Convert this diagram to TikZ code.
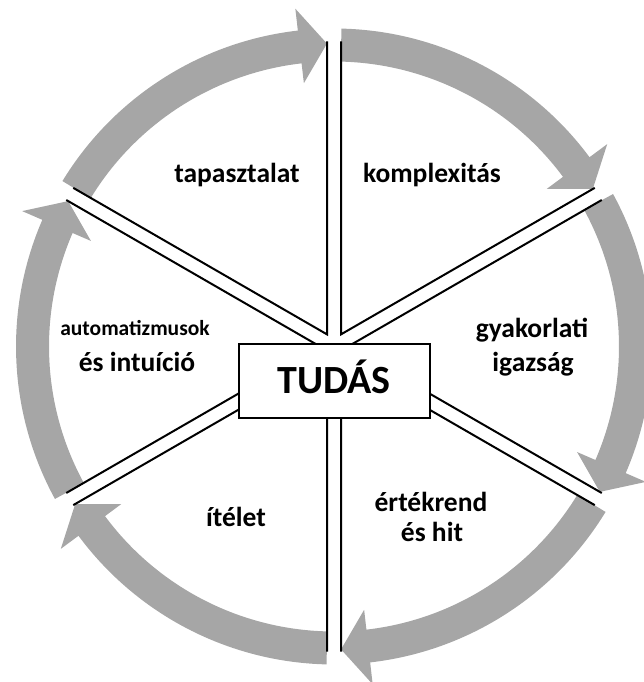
\documentclass[tikz,border=0pt]{standalone}
\usepackage{fontspec}
\setmainfont{Carlito}
\usetikzlibrary{calc}
\definecolor{arrowgray}{RGB}{166,166,166}
\tikzset{
  spoke/.style={line width=2pt, draw=black, line join=miter},
  cyclearrow/.style={fill=arrowgray, draw=none},
  lbl/.style={anchor=base, inner sep=0pt, font=\bfseries\fontsize{27.5}{32}\selectfont},
  smalllbl/.style={anchor=base, inner sep=0pt, font=\bfseries\fontsize{21.5}{26}\selectfont},
  centerbox/.style={draw=black, line width=2pt, fill=white, minimum width=191pt, minimum height=74pt,
    text height=26pt, text depth=0pt, inner sep=0pt, font=\bfseries\fontsize{40}{48}\selectfont}
}
\begin{document}
\begin{tikzpicture}[x=1pt,y=1pt]
\useasboundingbox (0,0) rectangle (643,682);
\coordinate (C) at (334,335.5);
% cycle arrows
\foreach \b in {60,0,-60,-120,180,120} {
  \pgfmathsetmacro\aone{\b+30-1.35}
  \pgfmathsetmacro\atwo{\b-30+1.33}
  \pgfmathsetmacro\ab{\atwo+5.2}
  \fill[cyclearrow] ($(C)+(\aone:318pt)$) arc[start angle=\aone, end angle=\ab, radius=318pt]
    -- ($(C)+(\ab:340pt)$) -- ($(C)+(\atwo:303pt)$) -- ($(C)+(\ab:265pt)$)
    -- ($(C)+(\ab:285pt)$) arc[start angle=\ab, end angle=\aone, radius=285pt] -- cycle;
}
% spokes (wedge edges)
\foreach \b [count=\i] in {60,0,-60,-120,180,120} {
  \coordinate (A\i) at ($(C)+(\b:14pt)$);
  \coordinate (P\i) at ($(A\i)+(\b+30:293pt)$);
  \coordinate (Q\i) at ($(A\i)+(\b-30:293pt)$);
  \draw[spoke] (P\i) -- (A\i) -- (Q\i);
}
% center box
\node[centerbox] (tudas) at (334,301) {TUDÁS};
% labels
\node[lbl] (l1) at (237,499) {tapasztalat};
\node[lbl] (l2) at (432,499) {komplexitás};
\node[lbl] (l3a) at (532,344) {gyakorlati};
\node[lbl] (l3b) at (533,310) {igazság};
\node[lbl] (l4a) at (431,170) {értékrend};
\node[lbl] (l4b) at (432,140) {és hit};
\node[lbl] (l5) at (236,155) {ítélet};
\node[smalllbl] (l6a) at (135,346) {automatizmusok};
\node[lbl] (l6b) at (137,310) {és intuíció};
\end{tikzpicture}
\end{document}
